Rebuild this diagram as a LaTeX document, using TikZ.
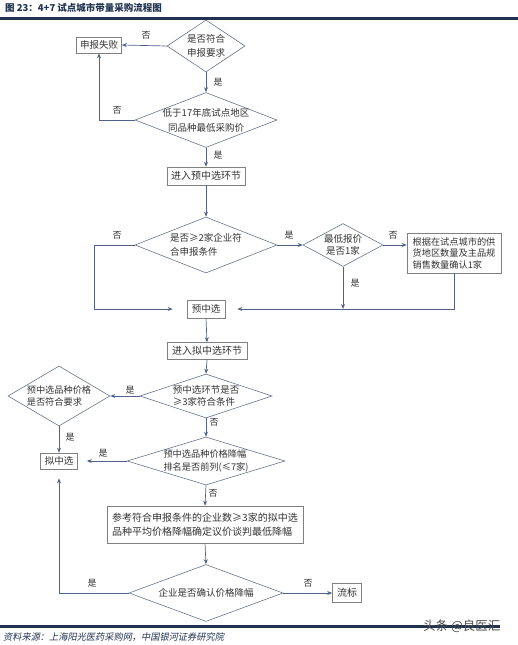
\documentclass[tikz,border=0pt]{standalone}
\usepackage{fontspec}
\setmainfont{Noto Sans CJK SC}
\newfontfamily\cjkit[FakeSlant=0.2]{Noto Sans CJK SC}
\usetikzlibrary{arrows.meta,shapes.geometric}
\definecolor{linecol}{RGB}{78,98,138}
\definecolor{boxcol}{RGB}{128,128,128}
\definecolor{diacol}{RGB}{105,115,145}
\definecolor{txtcol}{RGB}{50,50,50}
\definecolor{navy}{RGB}{31,50,80}
\tikzset{
  dia/.style={diamond, draw=diacol, line width=0.6pt, inner sep=0pt},
  bx/.style={rectangle, draw=boxcol, line width=0.6pt, inner sep=0pt, fill=white},
  txt/.style={text=txtcol, font=\fontsize{9.5}{14}\selectfont, align=center, inner sep=0pt},
  lbl/.style={text=txtcol, font=\fontsize{9}{10}\selectfont, inner sep=0pt},
  ln/.style={draw=linecol, line width=0.7pt},
  arr/.style={ln, -{Stealth[length=5pt,width=4pt]}}
}
\begin{document}
\begin{tikzpicture}[x=1pt,y=-1pt]
\useasboundingbox (0,0) rectangle (518,645);
% title and rules
\node[anchor=west, text=navy, font=\bfseries\fontsize{9.5}{11}\selectfont, inner sep=0pt] (title) at (5,8) {图 23：4+7 试点城市带量采购流程图};
\draw[navy, line width=3pt] (0,18.5) -- (518,18.5);
\draw[navy, line width=3pt] (0,626) -- (500,626);
\node[anchor=west, text=navy, font=\cjkit\fontsize{9.2}{11}\selectfont, inner sep=0pt] (src) at (3,637) {资料来源：上海阳光医药采购网，中国银河证券研究院};
\node[anchor=west, text=black!70, font=\fontsize{12.5}{14}\selectfont, inner sep=0pt] (wm) at (423,626) {头条 @良医汇};

% shapes
\node[dia, minimum width=78, minimum height=52] (d1) at (206,46) {};
\node[txt] (d1t) at (d1) {是否符合\\申报要求};
\node[bx, minimum width=45, minimum height=16] (f1) at (99,45) {};
\node[txt] (f1t) at (f1) {申报失败};
\node[dia, minimum width=142, minimum height=55] (d2) at (206,120) {};
\node[txt, font=\fontsize{9.5}{15}\selectfont] (d2t) at (d2) {低于17年底试点地区\\同品种最低采购价};
\node[bx, minimum width=78, minimum height=18] (b1) at (206,176) {};
\node[txt, font=\fontsize{10}{14}\selectfont] (b1t) at (b1) {进入预中选环节};
\node[dia, minimum width=142, minimum height=56] (d3) at (206,245) {};
\node[txt, align=left] (d3t) at (d3) {是否≥2家企业符\\合申报条件};
\node[dia, minimum width=80, minimum height=43] (d4) at (343,245) {};
\node[txt, font=\fontsize{9.5}{12}\selectfont] (d4t) at (d4) {最低报价\\是否1家};
\node[bx, minimum width=94, minimum height=40] (b2) at (454,253) {};
\node[txt, align=left, font=\fontsize{9.2}{11.5}\selectfont] (b2t) at (b2) {根据在试点城市的供\\货地区数量及主品规\\销售数量确认1家};
\node[bx, minimum width=38, minimum height=18] (p1) at (206,309) {};
\node[txt] (p1t) at (p1) {预中选};
\node[bx, minimum width=80, minimum height=17] (b3) at (207,351) {};
\node[txt, font=\fontsize{10}{14}\selectfont] (b3t) at (b3) {进入拟中选环节};
\node[dia, minimum width=132, minimum height=44] (d5) at (206,396) {};
\node[txt, align=left, font=\fontsize{9.5}{12}\selectfont] (d5t) at (d5) {预中选环节是否\\≥3家符合条件};
\node[dia, minimum width=102, minimum height=60] (d6) at (59,396) {};
\node[txt, align=left, font=\fontsize{9.2}{12}\selectfont] (d6t) at (d6) {预中选品种价格\\是否符合要求};
\node[bx, minimum width=37, minimum height=16] (n1) at (59,461) {};
\node[txt] (n1t) at (n1) {拟中选};
\node[dia, minimum width=158, minimum height=48] (d7) at (206,461) {};
\node[txt, align=left, font=\fontsize{9.2}{12.5}\selectfont] (d7t) at (d7) {预中选品种价格降幅\\排名是否前列(≤7家)};
\node[bx, minimum width=196, minimum height=37] (b4) at (205,524.5) {};
\node[txt, align=left, font=\fontsize{10}{14}\selectfont] (b4t) at (b4) {参考符合申报条件的企业数≥3家的拟中选\\品种平均价格降幅确定议价谈判最低降幅};
\node[dia, minimum width=154, minimum height=57] (d8) at (206,593) {};
\node[txt] (d8t) at (d8) {企业是否确认价格降幅};
\node[bx, minimum width=29, minimum height=19] (f2) at (347,593) {};
\node[txt, font=\fontsize{10}{14}\selectfont] (f2t) at (f2) {流标};

\coordinate (c1) at (94,309);

% connectors
\draw[arr] (d1.west) -- (f1.east);
\node[lbl] (l1) at (146,35) {否};
\draw[arr] (d1.south) -- (d2.north);
\node[lbl] (l2) at (218,82) {是};
\draw[arr] (d2.west) -| (f1.south);
\node[lbl] (l3) at (117,110) {否};
\draw[arr] (d2.south) -- (b1.north);
\node[lbl] (l4) at (218,155) {是};
\draw[arr] (b1.south) -- (d3.north);
\draw[arr, shorten >=14pt] (d3.west) -| (c1) -- (p1.west);
\node[lbl] (l5) at (117,235) {否};
\draw[arr] (d3.east) -- (d4.west);
\node[lbl] (l6) at (289,235) {是};
\draw[arr] (d4.east) -- (d4.east -| b2.west);
\node[lbl] (l7) at (393,235) {否};
\draw[arr, shorten >=12pt] (b2.south) |- (p1.east);
\draw[arr] (d4.south) -- (d4.south |- p1.east);
\node[lbl] (l8) at (355,283) {是};
\draw[arr] (p1.south) -- (b3.north);
\draw[arr] (b3.south) -- (d5.north);
\draw[arr] (d5.west) -- (d6.east);
\node[lbl] (l9) at (130,390) {是};
\draw[arr] (d6.south) -- (n1.north);
\node[lbl] (l10) at (70,437) {是};
\draw[arr] (d5.south) -- (d7.north);
\node[lbl] (l11) at (214,422) {否};
\draw[arr, shorten >=9pt] (d7.west) -- (n1.east);
\node[lbl] (l12) at (103,453) {是};
\draw[arr] (d7.south) -- (b4.north);
\node[lbl] (l13) at (213,493) {否};
\draw[arr] (b4.south) -- (d8.north);
\draw[arr, shorten >=9pt] (d8.west) -| (n1.south);
\node[lbl] (l14) at (92,583) {是};
\draw[arr] (d8.east) -- (f2.west);
\node[lbl] (l15) at (308,583) {否};
\end{tikzpicture}
\end{document}
